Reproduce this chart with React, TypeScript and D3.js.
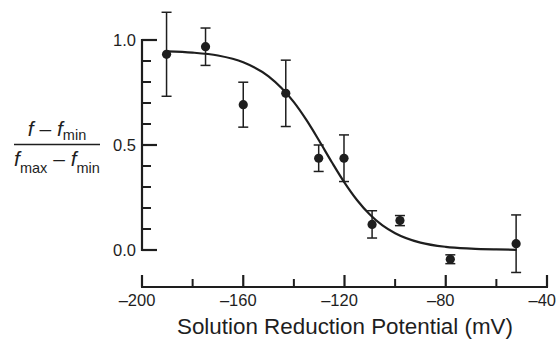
import React from 'react'
import * as d3 from 'd3'

// measured points: potential (mV), normalised fraction, error half-height
const potentials = [-190.3, -174.9, -160, -143.2, -130.2, -120.2, -109.1, -98.1, -78.2, -52.2]
const fractions = [0.932, 0.968, 0.692, 0.746, 0.437, 0.437, 0.122, 0.14, -0.044, 0.03]
const errors = [0.2, 0.089, 0.107, 0.158, 0.063, 0.111, 0.065, 0.024, 0.021, 0.137]

// fitted curve
const fitPotentials = [-190, -180, -170, -160, -150, -140, -135, -130, -125, -120, -115, -110, -105, -100, -90, -80, -70, -60, -52]
const fitValues = [0.946, 0.94, 0.926, 0.894, 0.827, 0.704, 0.618, 0.52, 0.418, 0.321, 0.237, 0.169, 0.117, 0.08, 0.035, 0.015, 0.007, 0.003, 0.001]

const yMajorTicks = [0, 0.5, 1]
const yMinorTicks = [0.1, 0.2, 0.3, 0.4, 0.6, 0.7, 0.8, 0.9]
const xMajorTicks = [-200, -160, -120, -80, -40]
const xMinorTicks = [-180, -140, -100, -60]

const width = 557
const height = 339
const ink = "#1e1e1e"
const font = "'Liberation Sans', Arial, Helvetica, sans-serif"

export default function App() {
    const x = d3.scaleLinear().domain([-200, -40]).range([142, 547])
    const y = d3.scaleLinear().domain([0, 1]).range([250, 40])
    const xAxisY = 287

    const line = d3.line<number>()
        .x((_, i) => x(fitPotentials[i]))
        .y(d => y(d))
        .curve(d3.curveMonotoneX)

    const fmtMinus = (v: number) => (v < 0 ? "\u2013" + Math.abs(v) : String(v))

    return (
        <svg width={width} height={height} viewBox={`0 0 ${width} ${height}`}
            style={{ position: 'absolute', left: 0, top: 0, background: '#fff' }}
            fontFamily={font}>
            {/* Y axis */}
            <line x1={x(-200)} x2={x(-200)} y1={y(1) - 1} y2={y(0) + 1} stroke={ink} strokeWidth={2.2} />
            {yMajorTicks.map(t => (
                <g key={"ym" + t}>
                    <line x1={x(-200)} x2={x(-200) + 15} y1={y(t)} y2={y(t)} stroke={ink} strokeWidth={2.2} />
                    <text x={136} y={y(t)} dy="0.36em" textAnchor="end" fontSize={16.5} fill={ink}>{t.toFixed(1)}</text>
                </g>
            ))}
            {yMinorTicks.map(t => (
                <line key={"yn" + t} x1={x(-200)} x2={x(-200) + 9} y1={y(t)} y2={y(t)} stroke={ink} strokeWidth={2} />
            ))}

            {/* X axis */}
            <line x1={x(-200) - 1} x2={x(-40) + 1} y1={xAxisY} y2={xAxisY} stroke={ink} strokeWidth={2.2} />
            {xMajorTicks.map((t, i) => {
                const last = i === xMajorTicks.length - 1
                return (
                    <g key={"xm" + t}>
                        <line x1={x(t)} x2={x(t)} y1={xAxisY} y2={xAxisY - 12} stroke={ink} strokeWidth={2.2} />
                        <text x={last ? width - 1 : x(t) - 5} y={306} textAnchor={last ? "end" : "middle"} fontSize={16.5} fill={ink}>{fmtMinus(t)}</text>
                    </g>
                )
            })}
            {xMinorTicks.map(t => (
                <line key={"xn" + t} x1={x(t)} x2={x(t)} y1={xAxisY} y2={xAxisY - 8} stroke={ink} strokeWidth={2} />
            ))}
            <text x={345} y={334} textAnchor="middle" fontSize={22.4} fill={ink}>Solution Reduction Potential (mV)</text>

            {/* Y label as fraction */}
            <text x={57} y={136} textAnchor="middle" fontSize={21} fill={ink}>
                <tspan fontStyle="italic">f</tspan>
                <tspan>{" \u2013 "}</tspan>
                <tspan fontStyle="italic">f</tspan>
                <tspan fontSize={14.5} dy={4}>min</tspan>
            </text>
            <line x1={14} x2={100} y1={144.5} y2={144.5} stroke={ink} strokeWidth={1.6} />
            <text x={57} y={166} textAnchor="middle" fontSize={21} fill={ink}>
                <tspan fontStyle="italic">f</tspan>
                <tspan fontSize={14.5} dy={7}>max</tspan>
                <tspan dy={-7}>{" \u2013 "}</tspan>
                <tspan fontStyle="italic">f</tspan>
                <tspan fontSize={14.5} dy={7}>min</tspan>
            </text>

            {/* fitted curve */}
            <path d={line(fitValues) || ""} fill="none" stroke={ink} strokeWidth={2.2} />

            {/* error bars and points */}
            {potentials.map((p, i) => {
                const cx = x(p)
                const top = y(fractions[i] + errors[i])
                const bot = y(fractions[i] - errors[i])
                return (
                    <g key={"pt" + i}>
                        <line x1={cx} x2={cx} y1={top} y2={bot} stroke={ink} strokeWidth={1.5} />
                        <line x1={cx - 5} x2={cx + 5} y1={top} y2={top} stroke={ink} strokeWidth={1.5} />
                        <line x1={cx - 5} x2={cx + 5} y1={bot} y2={bot} stroke={ink} strokeWidth={1.5} />
                        <circle cx={cx} cy={y(fractions[i])} r={4.6} fill={ink} />
                    </g>
                )
            })}
        </svg>
    )
}
